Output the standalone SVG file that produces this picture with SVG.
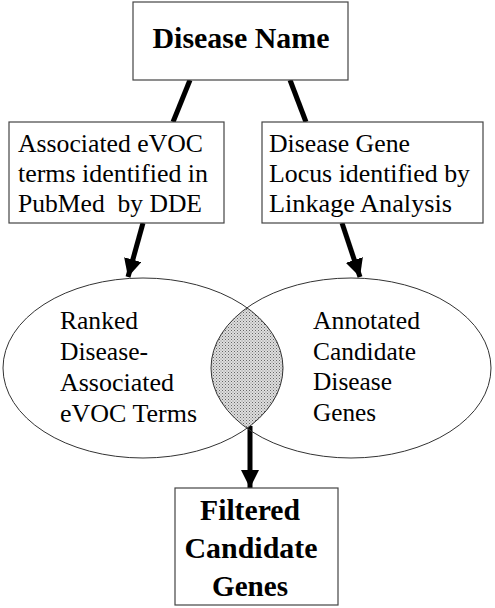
<svg xmlns="http://www.w3.org/2000/svg" width="495" height="608" viewBox="0 0 495 608">
<style>
.box{fill:#fff;stroke:#444;stroke-width:1.2}
.ell{fill:none;stroke:#333;stroke-width:1}
.t{font-family:'Liberation Serif',Tinos,'Times New Roman','DejaVu Serif',serif;font-size:26px;fill:#000}
.b{font-family:'Liberation Serif',Tinos,'Times New Roman','DejaVu Serif',serif;font-size:30px;font-weight:bold;fill:#000}
.c{stroke:#000;stroke-width:5;fill:none}
</style>
<defs>
<marker id="ah" markerUnits="userSpaceOnUse" markerWidth="18" markerHeight="18" refX="16" refY="8" orient="auto" viewBox="0 0 16 16">
<path d="M0,0 L16,8 L0,16 Z" fill="#000"/>
</marker>
<pattern id="dots" width="3" height="3" patternUnits="userSpaceOnUse">
<rect width="3" height="3" fill="#dedede"/>
<rect x="0" y="0" width="1" height="1" fill="#666"/>
<rect x="1.5" y="1.5" width="1" height="1" fill="#888"/>
</pattern>
<clipPath id="clipL"><ellipse cx="143" cy="368" rx="140" ry="90"/></clipPath>
</defs>
<rect width="495" height="608" fill="#fff"/>
<g id="connectors">
<line class="c" x1="190" y1="80" x2="173" y2="122"/>
<line class="c" x1="290" y1="80" x2="306" y2="122"/>
<line class="c" x1="143" y1="223" x2="128" y2="277" marker-end="url(#ah)"/>
<line class="c" x1="342" y1="223" x2="360" y2="277" marker-end="url(#ah)"/>
<line class="c" x1="250" y1="426" x2="250" y2="488" marker-end="url(#ah)"/>
</g>
<g id="disease-name">
<rect class="box" x="133" y="2" width="215" height="78"/>
<text class="b" x="241" y="48" text-anchor="middle" textLength="177" lengthAdjust="spacingAndGlyphs">Disease Name</text>
</g>
<g id="evoc-terms">
<rect class="box" x="9" y="122" width="215" height="101"/>
<text class="t" x="18" y="152" textLength="185" lengthAdjust="spacingAndGlyphs">Associated eVOC</text>
<text class="t" x="18" y="182" textLength="190" lengthAdjust="spacingAndGlyphs">terms identified in</text>
<text class="t" x="18" y="212" xml:space="preserve" textLength="184" lengthAdjust="spacingAndGlyphs">PubMed  by DDE</text>
</g>
<g id="gene-locus">
<rect class="box" x="262" y="122" width="221" height="101"/>
<text class="t" x="269" y="152" textLength="141" lengthAdjust="spacingAndGlyphs">Disease Gene</text>
<text class="t" x="269" y="182" textLength="201" lengthAdjust="spacingAndGlyphs">Locus identified by</text>
<text class="t" x="269" y="212" textLength="183" lengthAdjust="spacingAndGlyphs">Linkage Analysis</text>
</g>
<g id="overlap">
<ellipse cx="351" cy="368" rx="140" ry="90" fill="url(#dots)" clip-path="url(#clipL)"/>
</g>
<g id="ranked-terms">
<ellipse class="ell" cx="143" cy="368" rx="140" ry="90"/>
<text class="t" x="60" y="329" textLength="78" lengthAdjust="spacingAndGlyphs">Ranked</text>
<text class="t" x="60" y="360" textLength="88" lengthAdjust="spacingAndGlyphs">Disease-</text>
<text class="t" x="60" y="391" textLength="114" lengthAdjust="spacingAndGlyphs">Associated</text>
<text class="t" x="60" y="422" textLength="137" lengthAdjust="spacingAndGlyphs">eVOC Terms</text>
</g>
<g id="annotated-genes">
<ellipse class="ell" cx="351" cy="368" rx="140" ry="90"/>
<text class="t" x="313" y="329" textLength="107" lengthAdjust="spacingAndGlyphs">Annotated</text>
<text class="t" x="313" y="360" textLength="103" lengthAdjust="spacingAndGlyphs">Candidate</text>
<text class="t" x="313" y="390" textLength="79" lengthAdjust="spacingAndGlyphs">Disease</text>
<text class="t" x="313" y="421" textLength="63" lengthAdjust="spacingAndGlyphs">Genes</text>
</g>
<g id="filtered-genes">
<rect class="box" x="175" y="488" width="163" height="117"/>
<text class="b" x="250" y="520" text-anchor="middle" textLength="100" lengthAdjust="spacingAndGlyphs">Filtered</text>
<text class="b" x="251" y="558" text-anchor="middle" textLength="133" lengthAdjust="spacingAndGlyphs">Candidate</text>
<text class="b" x="250" y="596" text-anchor="middle" textLength="76" lengthAdjust="spacingAndGlyphs">Genes</text>
</g>
</svg>
